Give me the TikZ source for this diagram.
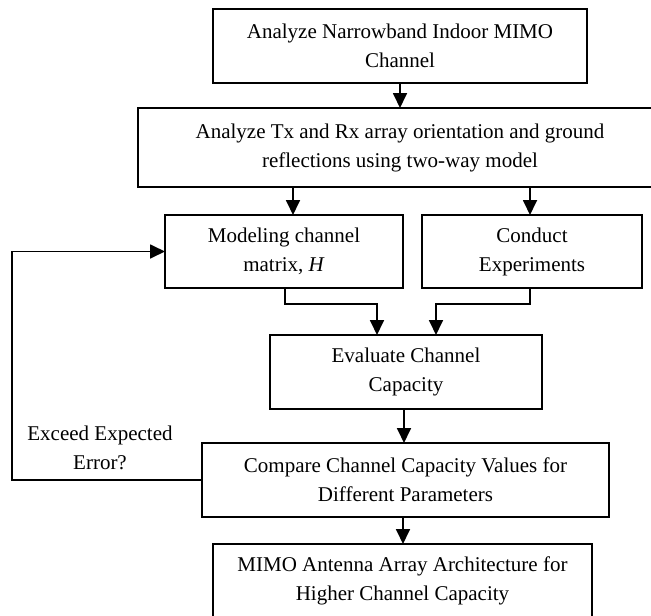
\documentclass[tikz,border=0pt]{standalone}
\usepackage{fontspec}
\setmainfont{Liberation Serif}
\usetikzlibrary{arrows.meta}
\tikzset{
  flowbox/.style={draw=black, line width=1.8pt, rectangle, inner sep=0pt, outer sep=0pt,
    align=center, font=\fontsize{21}{29}\selectfont},
  arr/.style={draw=black, line width=1.8pt, -{Triangle[length=15pt,width=14pt]}},
  plain/.style={draw=black, line width=1.8pt},
  lbl/.style={align=center, font=\fontsize{21}{29}\selectfont, inner sep=0pt}
}
\begin{document}
\begin{tikzpicture}[x=1pt,y=-1pt]
\useasboundingbox (0,0) rectangle (651,616);
\clip (0,0) rectangle (651,616);

% boxes
\node[flowbox, minimum width=374pt, minimum height=74pt] (b1) at (400,46)
  {Analyze Narrowband Indoor MIMO\\Channel};
\node[flowbox, minimum width=524pt, minimum height=79pt] (b2) at (400,147.5)
  {Analyze Tx and Rx array orientation and ground\\reflections using two-way model};
\node[flowbox, minimum width=238pt, minimum height=73pt] (mod) at (284,251.5)
  {Modeling channel\\matrix, \textit{H}};
\node[flowbox, minimum width=220pt, minimum height=73pt] (con) at (532,251.5)
  {Conduct\\Experiments};
\node[flowbox, minimum width=272pt, minimum height=74pt] (eva) at (406,372)
  {Evaluate Channel\\Capacity};
\node[flowbox, minimum width=407pt, minimum height=74pt] (cmp) at (405.5,480)
  {Compare Channel Capacity Values for\\Different Parameters};
\node[flowbox, minimum width=379pt, minimum height=74pt] (mimo) at (402.5,581)
  {MIMO Antenna Array Architecture for\\Higher Channel Capacity};

\node[lbl] (err) at (100,447.5) {Exceed Expected\\Error?};

% routing columns and rows
\coordinate (c1) at (400,0);
\coordinate (c2) at (293,0);
\coordinate (c3) at (530,0);
\coordinate (c4) at (285,0);
\coordinate (c5) at (377,0);
\coordinate (c6) at (436,0);
\coordinate (c7) at (404,0);
\coordinate (c8) at (403,0);
\coordinate (fb) at (12,0);
\coordinate (mrow) at (0,304);

% connectors
\draw[arr] (b1.south -| c1) -- (b2.north -| c1);
\draw[arr] (b2.south -| c2) -- (mod.north -| c2);
\draw[arr] (b2.south -| c3) -- (con.north -| c3);
\draw[arr] (mod.south -| c4) -- (mrow -| c4) -- (mrow -| c5) -- (eva.north -| c5);
\draw[arr] (con.south -| c3) -- (mrow -| c3) -- (mrow -| c6) -- (eva.north -| c6);
\draw[arr] (eva.south -| c7) -- (cmp.north -| c7);
\draw[arr] (cmp.south -| c8) -- (mimo.north -| c8);
\draw[arr] (cmp.west) -- (cmp.west -| fb) -- (mod.west -| fb) -- (mod.west);
\end{tikzpicture}
\end{document}
